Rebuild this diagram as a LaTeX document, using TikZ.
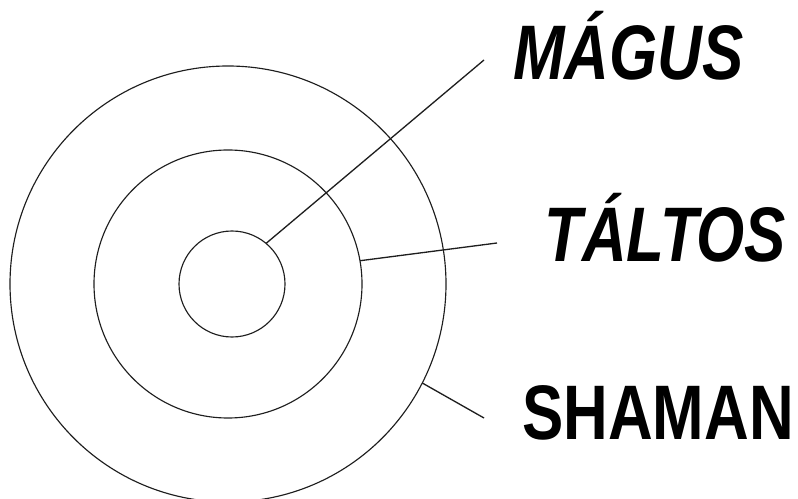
\documentclass[tikz,border=0pt]{standalone}
\usepackage{fontspec}
\usepackage{tikz}
\usetikzlibrary{positioning}
\newfontfamily\ringfont[FakeStretch=0.8]{Liberation Sans}
\definecolor{ringGray}{RGB}{30,30,30}

\begin{document}
\begin{tikzpicture}[x=0.2mm,y=-0.2mm,
    ring/.style={draw=ringGray, circle, line width=0.65pt, inner sep=0pt, outer sep=0pt},
    lead/.style={draw=ringGray, line width=0.75pt},
    tag/.style={inner sep=0pt, anchor=base west, font=\fontsize{44}{44}\selectfont\ringfont\bfseries}]
    \useasboundingbox (0,0) rectangle (798,499);

    \node[ring, minimum size=436*0.2mm] (outer) at (228,284) {};
    \node[ring, minimum size=268*0.2mm] (middle) at (228,284) {};
    \node[ring, minimum size=106*0.2mm] (inner) at (232,284) {};

    \node[tag] (magus) at (513,80) {\itshape MÁGUS};
    \node[tag] (taltos) at (544,262) {\itshape TÁLTOS};
    \node[tag] (shaman) at (522,439) {SHAMAN};

    \coordinate (magusend) at (484,60);
    \coordinate (taltosend) at (497,243);
    \coordinate (shamanend) at (484,418);

    \draw[lead] (inner.50) -- (magusend);
    \draw[lead] (middle.10) -- (taltosend);
    \draw[lead] (outer.-27) -- (shamanend);
\end{tikzpicture}
\end{document}
